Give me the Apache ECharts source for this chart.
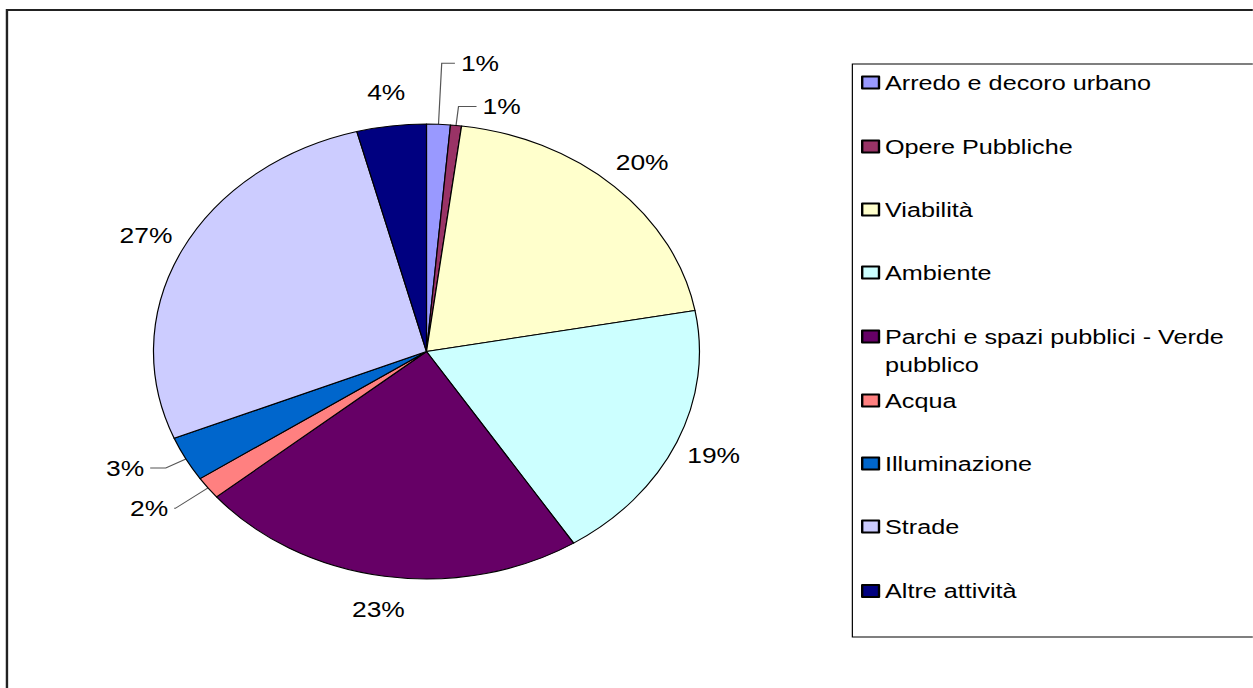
<!DOCTYPE html>
<html>
<head>
<meta charset="utf-8">
<script src="https://cdn.jsdelivr.net/npm/echarts@6/dist/echarts.min.js"></script>
<style>
html, body { margin: 0; padding: 0; background: #fff; overflow: hidden; }
/* the source picture is stretched 1.2x sideways, so draw narrow and widen with css */
#chart { width: 1044px; height: 688px; transform: scaleX(1.2); transform-origin: 0 0; }
</style>
</head>
<body>
<div id="chart"></div>
<script>
const categories = ['Arredo e decoro urbano', 'Opere Pubbliche', 'Viabilità', 'Ambiente',
    'Parchi e spazi pubblici - Verde pubblico', 'Acqua', 'Illuminazione', 'Strade', 'Altre attività'];
const values = [1.4, 0.65, 20.05, 18.8, 23.0, 1.6, 3.2, 27.1, 4.1];
const colors = ['#9999FF', '#993366', '#FFFFCC', '#CCFFFF', '#660066', '#FF8080', '#0066CC', '#CCCCFF', '#000080'];

// thin slices get a leader line: [length, length2]
const leaders = { 0: [61, 11], 1: [19, 15], 5: [34, 1], 6: [19, 13] };
const legendCenters = [82.5, 146.5, 209.5, 272.5, 336.5, 400.5, 463.5, 526.5, 591];

const FONT = '"Liberation Sans", Arial, sans-serif';
const CENTER = [355.4, 351.5];

const chart = echarts.init(document.getElementById('chart'), null, { renderer: 'svg' });

const legendText = { color: '#000', fontFamily: FONT, fontSize: 21 };
const pieText = { color: '#000', fontFamily: FONT, fontSize: 22 };

const option = {
    animation: false,
    backgroundColor: '#fff',
    graphic: [
        {
            type: 'rect', silent: true, z: -10,
            shape: { x: 5.8, y: 10, width: 1100, height: 720 },
            style: { fill: 'none', stroke: '#222', lineWidth: 2 }
        },
        {
            type: 'rect', silent: true, z: -10,
            shape: { x: 710.3, y: 64, width: 400, height: 573 },
            style: { fill: 'none', stroke: '#000', lineWidth: 1 }
        }
    ],
    legend: categories.map(function (name, i) {
        const multi = name.length > 30;
        return {
            data: [name],
            orient: 'vertical',
            left: 717.5,
            top: legendCenters[i] - (multi ? 42 : 12),
            padding: 0,
            icon: 'rect',
            itemWidth: 14,
            itemHeight: 12,
            selectedMode: false,
            // long name: empty first line keeps the first real line level with the box
            formatter: multi ? function (n) { return '\n' + n.replace(/ (\S+)$/, '\n$1'); } : '{name}',
            textStyle: Object.assign({ lineHeight: multi ? 28 : 24 }, legendText)
        };
    }),
    series: [
        {
            type: 'pie',
            radius: 227.5,
            center: CENTER,
            startAngle: 90,
            avoidLabelOverlap: false,
            percentPrecision: 0,
            silent: true,
            itemStyle: { borderColor: '#000', borderWidth: 1 },
            label: Object.assign({ show: false, position: 'outside', formatter: '{d}%' }, pieText),
            labelLine: { show: false, lineStyle: { color: '#555', width: 1 } },
            data: categories.map(function (name, i) {
                const item = { name: name, value: values[i], itemStyle: { color: colors[i] } };
                if (leaders[i]) {
                    item.label = { show: true };
                    item.labelLine = { show: true, length: leaders[i][0], length2: leaders[i][1] };
                }
                return item;
            })
        },
        {
            // invisible ring that only carries the centred outer labels
            type: 'pie',
            radius: [208, 308],
            center: CENTER,
            startAngle: 90,
            percentPrecision: 0,
            silent: true,
            itemStyle: { color: 'rgba(0,0,0,0)', borderWidth: 0 },
            label: Object.assign({ position: 'inside', formatter: '{d}%' }, pieText),
            labelLine: { show: false },
            data: values.map(function (v, i) {
                return { value: v, label: { show: !leaders[i] } };
            })
        }
    ]
};

chart.setOption(option);
</script>
</body>
</html>
